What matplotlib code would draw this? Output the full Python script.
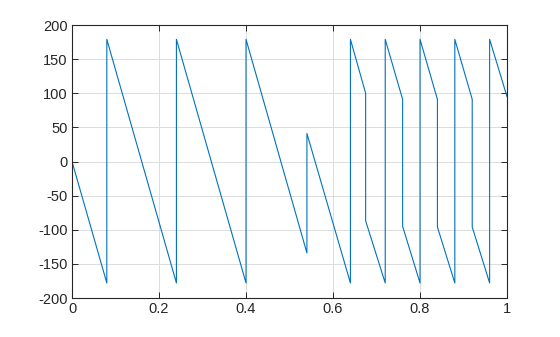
import matplotlib
matplotlib.use("Agg")
import matplotlib.pyplot as plt

# vertices of the wrapped phase curve (jumps are repeated x values)
t = [0.0, 0.08, 0.08, 0.24, 0.24, 0.40, 0.40, 0.54, 0.54, 0.64, 0.64,
     0.675, 0.675, 0.72, 0.72, 0.76, 0.76, 0.80, 0.80, 0.84, 0.84,
     0.88, 0.88, 0.92, 0.92, 0.96, 0.96, 1.0]
phase = [0, -178, 179, -178, 179, -178, 179, -134, 41, -178, 179,
         100, -87, -178, 179, 91, -95, -178, 179, 91, -96,
         -178, 179, 91, -96, -178, 179, 95]

xticks = [0, 0.2, 0.4, 0.6, 0.8, 1]
xticklabels = ["0", "0.2", "0.4", "0.6", "0.8", "1"]
yticks = [-200, -150, -100, -50, 0, 50, 100, 150, 200]

plt.rcParams['font.family'] = ['Liberation Sans', 'DejaVu Sans']
plt.rcParams['axes.unicode_minus'] = False

fig = plt.figure(figsize=(5.6, 3.37), dpi=100)
ax = fig.add_axes([0.1286, 0.1157, 0.7768, 0.8101])

ax.plot(t, phase, color='#0072BD', linewidth=0.8)

ax.set_xlim(0, 1)
ax.set_ylim(-200, 200)
ax.set_xticks(xticks)
ax.set_xticklabels(xticklabels)
ax.set_yticks(yticks)
ax.grid(True, color='#dcdcdc', linewidth=0.7)
ax.set_axisbelow(True)
ax.tick_params(direction='in', length=4, width=0.7, top=True, right=True,
               labelsize=10.5, colors='#262626', pad=3)
for s in ax.spines.values():
    s.set_linewidth(0.8)
    s.set_color('#262626')

fig.savefig('out.png', dpi=100)
